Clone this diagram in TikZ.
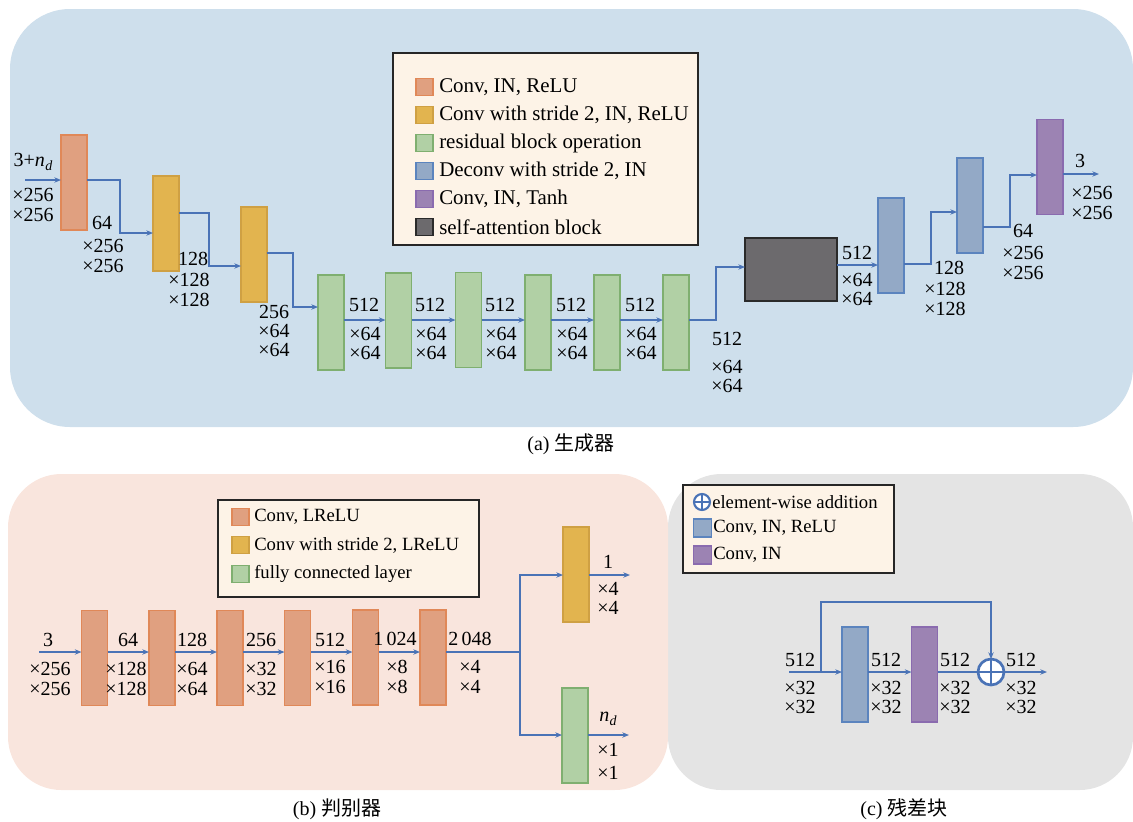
\documentclass[tikz,border=0pt]{standalone}
\usepackage{fontspec}
\setmainfont{Liberation Serif}
\newfontfamily\cjk{Noto Sans CJK SC}
\usetikzlibrary{arrows.meta,calc}
\definecolor{bgA}{HTML}{CEDFEC}
\definecolor{bgB}{HTML}{F9E5DD}
\definecolor{bgC}{HTML}{E4E4E4}
\definecolor{legF}{HTML}{FDF3E7}
\definecolor{cOr}{HTML}{E0A080}
\definecolor{cOrD}{HTML}{E08858}
\definecolor{cYe}{HTML}{E2B44F}
\definecolor{cYeD}{HTML}{CFA043}
\definecolor{cGr}{HTML}{B1D0A5}
\definecolor{cGrD}{HTML}{7FAF70}
\definecolor{cBl}{HTML}{93A9C6}
\definecolor{cBlD}{HTML}{5B84BE}
\definecolor{cPu}{HTML}{9C83B3}
\definecolor{cPuD}{HTML}{8A6BAF}
\definecolor{cBk}{HTML}{6C6A6D}
\definecolor{cBkD}{HTML}{2A2A2A}
\definecolor{cArr}{HTML}{4A73B6}
\newcommand{\nd}{\textit{n}\kern0.3pt\raisebox{-0.45ex}{\fontsize{10.5}{10.5}\selectfont\textit{d}}}
\begin{document}
\begin{tikzpicture}[x=0.75pt,y=-0.75pt,
  blk/.style={rectangle,minimum width=19.5pt,minimum height=71.25pt,inner sep=0pt,outer sep=0pt,line width=0.9pt},
  orblk/.style={blk,fill=cOr,draw=cOrD},
  yeblk/.style={blk,fill=cYe,draw=cYeD},
  grblk/.style={blk,fill=cGr,draw=cGrD},
  blblk/.style={blk,fill=cBl,draw=cBlD},
  publk/.style={blk,fill=cPu,draw=cPuD},
  saa/.style={rectangle,minimum width=69pt,minimum height=47.25pt,inner sep=0pt,outer sep=0pt,fill=cBk,draw=cBkD,line width=1pt},
  arr/.style={draw=cArr,line width=1.1pt,-{Stealth[length=5pt,width=4pt]}},
  ln/.style={draw=cArr,line width=1.1pt},
  lab/.style={font=\fontsize{15}{14.6}\selectfont,inner sep=0pt,align=center},
  legbox/.style={draw=black!85,line width=1pt,fill=legF},
  sw/.style={rectangle,minimum size=12.75pt,inner sep=0pt,line width=0.9pt},
  legA/.style={font=\fontsize{15.7}{16}\selectfont,inner sep=0pt,anchor=west},
  legB/.style={font=\fontsize{14}{16}\selectfont,inner sep=0pt,anchor=west},
  oplus/.style={circle,draw=cArr,fill=white,inner sep=0pt,outer sep=0pt,
    path picture={\draw[cArr,line width=#1] (path picture bounding box.north) -- (path picture bounding box.south) (path picture bounding box.west) -- (path picture bounding box.east);}},
  captxt/.style={font=\fontsize{15}{16}\selectfont,inner sep=0pt}
]
\useasboundingbox (0,0) rectangle (1133,822);
% panels
\fill[bgA,rounded corners=45pt] (10,9) rectangle (1133,427);
\fill[bgC,rounded corners=40pt] (668,474) rectangle (1133,790);
\fill[bgB,rounded corners=40pt] (8,474) rectangle (668,790);

% ===== (a) generator =====
\draw[legbox] (393,53) rectangle (698,245);
\node[sw,fill=cOr,draw=cOrD] (la1) at (424.5,87) {};
\node[legA] (ta1) at (439,87) {Conv, IN, ReLU};
\node[sw,fill=cYe,draw=cYeD] (la2) at (424.5,115) {};
\node[legA] (ta2) at (439,115) {Conv with stride 2, IN, ReLU};
\node[sw,fill=cGr,draw=cGrD] (la3) at (424.5,143) {};
\node[legA] (ta3) at (439,143) {residual block operation};
\node[sw,fill=cBl,draw=cBlD] (la4) at (424.5,171) {};
\node[legA] (ta4) at (439,171) {Deconv with stride 2, IN};
\node[sw,fill=cPu,draw=cPuD] (la5) at (424.5,199) {};
\node[legA] (ta5) at (439,199) {Conv, IN, Tanh};
\node[sw,fill=cBk,draw=cBkD] (la6) at (424.5,227) {};
\node[legA] (ta6) at (439,227) {self-attention block};

\node[orblk] (a1) at (74,182.5) {};
\node[yeblk] (a2) at (166,223.5) {};
\node[yeblk] (a3) at (254,254.5) {};
\node[grblk] (g1) at (331,322.5) {};
\node[grblk] (g2) at (398.5,320.5) {};
\node[grblk] (g3) at (468.5,320) {};
\node[grblk] (g4) at (538,322.5) {};
\node[grblk] (g5) at (607,322.5) {};
\node[grblk] (g6) at (676,322.5) {};
\node[saa] (sa) at (791,269.5) {};
\node[blblk] (d1) at (891,245.5) {};
\node[blblk] (d2) at (970,205.5) {};
\node[publk] (p1) at (1050,167) {};

\coordinate (ain) at (25,180);
\draw[arr] (ain) -- (a1.west |- 0,180);
\draw[arr] (a1.east |- 0,180) -- (120,180) |- (a2.west |- 0,233);
\draw[arr] (a2.east |- 0,213) -- (209,213) |- (a3.west |- 0,266);
\draw[arr] (a3.east |- 0,253) -- (293,253) |- (g1.west |- 0,307);
\draw[arr] (g1.east |- 0,320) -- (g2.west |- 0,320);
\draw[arr] (g2.east |- 0,320) -- (g3.west |- 0,320);
\draw[arr] (g3.east |- 0,320) -- (g4.west |- 0,320);
\draw[arr] (g4.east |- 0,320) -- (g5.west |- 0,320);
\draw[arr] (g5.east |- 0,320) -- (g6.west |- 0,320);
\draw[arr] (g6.east |- 0,320) -- (716,320) |- (sa.west |- 0,267);
\draw[arr] (sa.east |- 0,265) -- (d1.west |- 0,265);
\draw[arr] (d1.east |- 0,264) -- (931,264) |- (d2.west |- 0,212);
\draw[arr] (d2.east |- 0,227) -- (1010,227) |- (p1.west |- 0,175);
\coordinate (aout) at (1099,174);
\draw[arr] (p1.east |- 0,174) -- (aout);

\node[lab] (l0t) at (33,162) {3+\nd};
\node[lab] (l0b) at (33,205) {×256\\×256};
\node[lab] (l1t) at (102,223) {64};
\node[lab] (l1b) at (103,256) {×256\\×256};
\node[lab] (l2t) at (193,259) {128};
\node[lab] (l2b) at (189,290) {×128\\×128};
\node[lab] (l3t) at (274,312) {256};
\node[lab] (l3b) at (274,340.5) {×64\\×64};
\node[lab] (l4t) at (364,305) {512};
\node[lab] (l4b) at (365,343.5) {×64\\×64};
\node[lab] (l5t) at (430,305) {512};
\node[lab] (l5b) at (431,343.5) {×64\\×64};
\node[lab] (l6t) at (500,305) {512};
\node[lab] (l6b) at (501,343.5) {×64\\×64};
\node[lab] (l7t) at (571,305) {512};
\node[lab] (l7b) at (572,343.5) {×64\\×64};
\node[lab] (l8t) at (640,305) {512};
\node[lab] (l8b) at (641,343.5) {×64\\×64};
\node[lab] (l9t) at (727,339) {512};
\node[lab] (l9b) at (727,376.5) {×64\\×64};
\node[lab] (l10t) at (857,253) {512};
\node[lab] (l10b) at (857,289.5) {×64\\×64};
\node[lab] (l11t) at (949,268) {128};
\node[lab] (l11b) at (945,299) {×128\\×128};
\node[lab] (l12t) at (1023,231) {64};
\node[lab] (l12b) at (1023,263) {×256\\×256};
\node[lab] (l13t) at (1080,161) {3};
\node[lab] (l13b) at (1092,203) {×256\\×256};

\node[captxt] (capa) at (571,444) {(a) {\cjk 生成器}};

% ===== (b) discriminator =====
\draw[legbox] (218,500) rectangle (479,597);
\node[sw,fill=cOr,draw=cOrD] (lb1) at (240.5,517) {};
\node[legB] (tb1) at (254,517) {Conv, LReLU};
\node[sw,fill=cYe,draw=cYeD] (lb2) at (240.5,545) {};
\node[legB] (tb2) at (254,545) {Conv with stride 2, LReLU};
\node[sw,fill=cGr,draw=cGrD] (lb3) at (240.5,574) {};
\node[legB] (tb3) at (254,574) {fully connected layer};

\node[orblk] (b1) at (94.5,658) {};
\node[orblk] (b2) at (162,658) {};
\node[orblk] (b3) at (230,658) {};
\node[orblk] (b4) at (297.5,658) {};
\node[orblk] (b5) at (365.5,657.5) {};
\node[orblk] (b6) at (433,657.5) {};
\node[yeblk] (by) at (576,574.5) {};
\node[grblk] (bg) at (575,735.5) {};

\coordinate (bin) at (39,652);
\draw[arr] (bin) -- (b1.west |- 0,652);
\draw[arr] (b1.east |- 0,652) -- (b2.west |- 0,652);
\draw[arr] (b2.east |- 0,652) -- (b3.west |- 0,652);
\draw[arr] (b3.east |- 0,652) -- (b4.west |- 0,652);
\draw[arr] (b4.east |- 0,652) -- (b5.west |- 0,652);
\draw[arr] (b5.east |- 0,652) -- (b6.west |- 0,652);
\coordinate (bsplit) at (520,652);
\draw[ln] (b6.east |- 0,652) -- (bsplit);
\draw[arr] (bsplit) |- (by.west |- 0,575);
\draw[arr] (bsplit) |- (bg.west |- 0,735);
\coordinate (bout1) at (630,575);
\coordinate (bout2) at (629,735);
\draw[arr] (by.east |- 0,575) -- (bout1);
\draw[arr] (bg.east |- 0,735) -- (bout2);

\node[lab] (m0t) at (48,640) {3};
\node[lab] (m0b) at (50,679) {×256\\×256};
\node[lab] (m1t) at (128,640) {64};
\node[lab] (m1b) at (126,679) {×128\\×128};
\node[lab] (m2t) at (192,640) {128};
\node[lab] (m2b) at (192,679) {×64\\×64};
\node[lab] (m3t) at (261,640) {256};
\node[lab] (m3b) at (261,679) {×32\\×32};
\node[lab] (m4t) at (330,640) {512};
\node[lab] (m4b) at (330,677) {×16\\×16};
\node[lab] (m5t) at (395,639) {1\,024};
\node[lab] (m5b) at (397,677) {×8\\×8};
\node[lab] (m6t) at (470,639) {2\,048};
\node[lab] (m6b) at (470,677) {×4\\×4};
\node[lab] (m7t) at (608,562) {1};
\node[lab] (m7b) at (608,598.5) {×4\\×4};
\node[lab] (m8t) at (608,719) {\nd};
\node[lab,font=\fontsize{15}{17}\selectfont] (m8b) at (608,761.5) {×1\\×1};

\node[captxt] (capb) at (337,809) {(b) {\cjk 判别器}};

% ===== (c) residual block =====
\draw[legbox] (683,485) rectangle (894,573);
\node[oplus=1.2pt,line width=1.6pt,minimum size=12pt] (lc1) at (702,502) {};
\node[legB] (tc1) at (712,502) {element-wise addition};
\node[sw,minimum size=13.5pt,fill=cBl,draw=cBlD] (lc2) at (702.5,528) {};
\node[legB] (tc2) at (713,528) {Conv, IN, ReLU};
\node[sw,minimum size=13.5pt,fill=cPu,draw=cPuD] (lc3) at (702.5,555) {};
\node[legB] (tc3) at (713,555) {Conv, IN};

\node[blblk] (cb) at (855,674.5) {};
\node[publk] (cp) at (924.5,674.5) {};
\node[oplus=1.6pt,line width=2pt,minimum size=19.5pt] (add) at (991,672) {};

\coordinate (cin) at (789,672);
\coordinate (csk) at (821,672);
\draw[arr] (cin) -- (cb.west |- 0,672);
\draw[arr] (csk) -- (821,602) -| (add.north);
\draw[arr] (cb.east |- 0,672) -- (cp.west |- 0,672);
\draw[ln] (cp.east |- 0,672) -- (add.west);
\coordinate (cout) at (1047,672);
\draw[arr] (add.east) -- (cout);

\node[lab] (n0t) at (800,660) {512};
\node[lab] (n0b) at (800,697.5) {×32\\×32};
\node[lab] (n1t) at (886,660) {512};
\node[lab] (n1b) at (886,697.5) {×32\\×32};
\node[lab] (n2t) at (955,660) {512};
\node[lab] (n2b) at (955,697.5) {×32\\×32};
\node[lab] (n3t) at (1021,660) {512};
\node[lab] (n3b) at (1021,697.5) {×32\\×32};

\node[captxt] (capc) at (904,809) {(c) {\cjk 残差块}};
\end{tikzpicture}
\end{document}
